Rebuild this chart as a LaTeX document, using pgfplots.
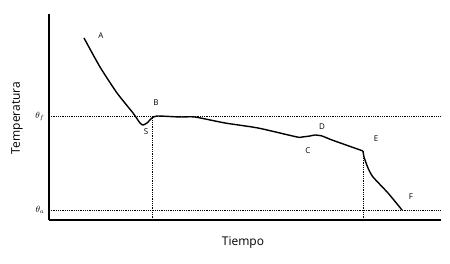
\documentclass[border=0pt]{standalone}
\usepackage{pgfplots}
\pgfplotsset{compat=1.18}
\usepackage{fontspec}
\setmainfont{Open Sans}
\begin{document}
\begin{tikzpicture}[x=1pt,y=1pt]
\useasboundingbox (0,0) rectangle (450,264);
\begin{axis}[
  at={(49pt,44pt)}, anchor=origin,
  scale only axis, width=392pt, height=206pt,
  xmin=49, xmax=441, ymin=44, ymax=250,
  axis x line=bottom, axis y line=left,
  axis line style={-, line width=1.2pt},
  xtick=\empty,
  ytick={148,54}, yticklabels={$\theta_f$,$\theta_a$},
  major tick length=0pt,
  yticklabel style={font=\small, xshift=-1pt},
  clip=false,
]
\addplot[black, line width=1.4pt, smooth, tension=0.35] coordinates {
(84,226)(100,197)(117,171)(133,151)(140,141)(143,139)(147,141)(152,146)(157,148)(180,147)(195,147)(225,141)(258,136)(297,127)(302,127)(310,128)(315,129)(322,128)(332,124)(363,113)};
\addplot[black, line width=1.4pt, smooth, tension=0.35] coordinates {
(363,113)(364,107)(368,96)(373,87)(388,71)(402,54)};
\addplot[black, densely dotted, line width=0.8pt] coordinates {(49,148)(441,148)};
\addplot[black, densely dotted, line width=0.8pt] coordinates {(49,54)(441,54)};
\addplot[black, densely dotted, line width=0.8pt] coordinates {(152,44)(152,148)};
\addplot[black, densely dotted, line width=0.8pt] coordinates {(363,44)(363,113)};
\node[font=\footnotesize] at (axis cs:101,228) {A};
\node[font=\footnotesize] at (axis cs:156,161) {B};
\node[font=\footnotesize] at (axis cs:146,132) {S};
\node[font=\footnotesize] at (axis cs:308,113) {C};
\node[font=\footnotesize] at (axis cs:322,137) {D};
\node[font=\footnotesize] at (axis cs:376,125) {E};
\node[font=\footnotesize] at (axis cs:411,67) {F};
\node[font=\large] at (axis cs:243,21) {Tiempo};
\node[font=\large, rotate=90] at (axis cs:17,146) {Temperatura};
\end{axis}
\end{tikzpicture}
\end{document}
